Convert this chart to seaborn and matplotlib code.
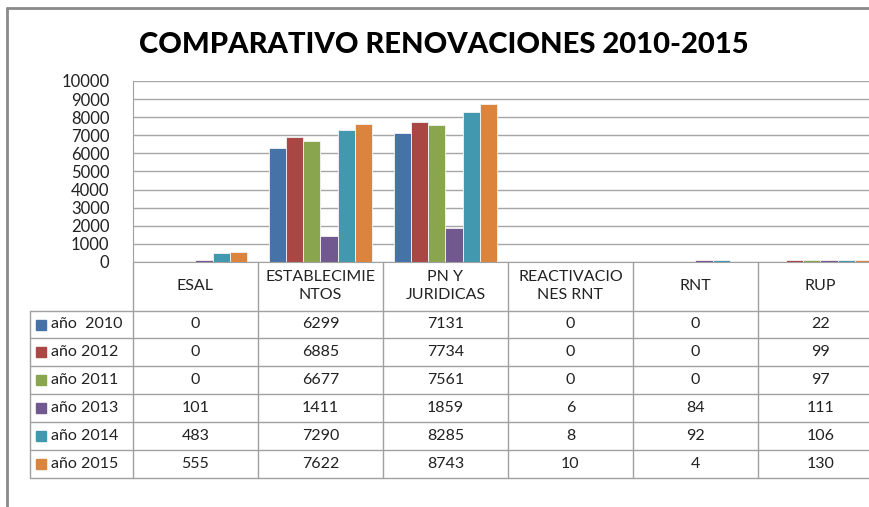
import matplotlib
matplotlib.use('Agg')
import matplotlib.pyplot as plt
import seaborn as sns
import pandas as pd
from matplotlib.lines import Line2D
from matplotlib.patches import Rectangle

categorias = ['ESAL', 'ESTABLECIMIENTOS', 'PN Y JURIDICAS', 'REACTIVACIONES RNT', 'RNT', 'RUP']
etiquetas = ['ESAL', 'ESTABLECIMIE\nNTOS', 'PN Y\nJURIDICAS', 'REACTIVACIO\nNES RNT', 'RNT', 'RUP']
series = ['año  2010', 'año 2012', 'año 2011', 'año 2013', 'año 2014', 'año 2015']
colores = ['#4572A7', '#AA4643', '#89A54E', '#71588F', '#4198AF', '#DB843D']

v2010 = [0, 6299, 7131, 0, 0, 22]
v2012 = [0, 6885, 7734, 0, 0, 99]
v2011 = [0, 6677, 7561, 0, 0, 97]
v2013 = [101, 1411, 1859, 6, 84, 111]
v2014 = [483, 7290, 8285, 8, 92, 106]
v2015 = [555, 7622, 8743, 10, 4, 130]
valores = [v2010, v2012, v2011, v2013, v2014, v2015]

filas = []
for s, vals in zip(series, valores):
    for c, v in zip(categorias, vals):
        filas.append({'categoria': c, 'serie': s, 'valor': v})
df = pd.DataFrame(filas)

sns.set_style('white')
plt.rcParams['font.family'] = ['Lato', 'DejaVu Sans']

W, H = 870, 507
fig = plt.figure(figsize=(8.7, 5.07), dpi=100)

def fx(x):
    return x / W

def fy(y):
    return 1 - y / H

ax = fig.add_axes([fx(133), fy(262), 750 / W, 181 / H])
sns.barplot(data=df, x='categoria', y='valor', hue='serie', order=categorias,
            hue_order=series, palette=colores, width=0.82, saturation=1,
            linewidth=0.6, edgecolor='#f4f4f4', legend=False, ax=ax)
ax.set_ylim(0, 10000)
ax.set_xlim(-0.5, len(categorias) - 0.5)
ax.set_yticks(range(0, 10001, 1000))
ax.yaxis.grid(True, color='#a6a6a6', linewidth=1)
ax.set_axisbelow(True)
ax.set_xticks([])
ax.set_xlabel('')
ax.set_ylabel('')
ax.tick_params(axis='y', labelsize=12, length=0, pad=17, colors='#222222')
for s in ['top', 'right']:
    ax.spines[s].set_visible(False)
ax.spines['left'].set_color('#a0a0a0')
ax.spines['bottom'].set_color('#a0a0a0')

fig.text(fx(444), fy(45), 'COMPARATIVO RENOVACIONES 2010-2015', ha='center', va='center',
         fontsize=21, fontweight='black', color='black')

# marco del grafico
fig.add_artist(Line2D([fx(7), fx(870)], [fy(8), fy(8)], color='#8a8a8a', lw=2))
fig.add_artist(Line2D([fx(7), fx(7)], [fy(8), fy(507)], color='#8a8a8a', lw=2))

# tabla de datos
col_x = [133 + 125 * i for i in range(len(categorias) + 1)]
fila_y = [262, 311, 338, 366, 394, 422, 450, 478]
gris = '#a0a0a0'
for x in col_x:
    fig.add_artist(Line2D([fx(x), fx(x)], [fy(262), fy(478)], color=gris, lw=1))
fig.add_artist(Line2D([fx(30), fx(30)], [fy(311), fy(478)], color=gris, lw=1))
for y in fila_y[1:]:
    fig.add_artist(Line2D([fx(30), fx(883)], [fy(y), fy(y)], color=gris, lw=1))

for i, lab in enumerate(etiquetas):
    fig.text(fx(col_x[i] + 62.5), fy(286), lab, ha='center', va='center',
             fontsize=11.5, color='#222222', linespacing=1.35)

for r, (s, vals, col) in enumerate(zip(series, valores, colores)):
    yc = (fila_y[r + 1] + fila_y[r + 2]) / 2
    fig.add_artist(Rectangle((fx(36), fy(yc + 5)), 10 / W, 10 / H, color=col))
    fig.text(fx(51), fy(yc), s, ha='left', va='center', fontsize=11.5, color='#222222')
    for i, v in enumerate(vals):
        fig.text(fx(col_x[i] + 62.5), fy(yc), str(v), ha='center', va='center',
                 fontsize=11.5, color='#222222')

fig.savefig('out.png', dpi=100)
